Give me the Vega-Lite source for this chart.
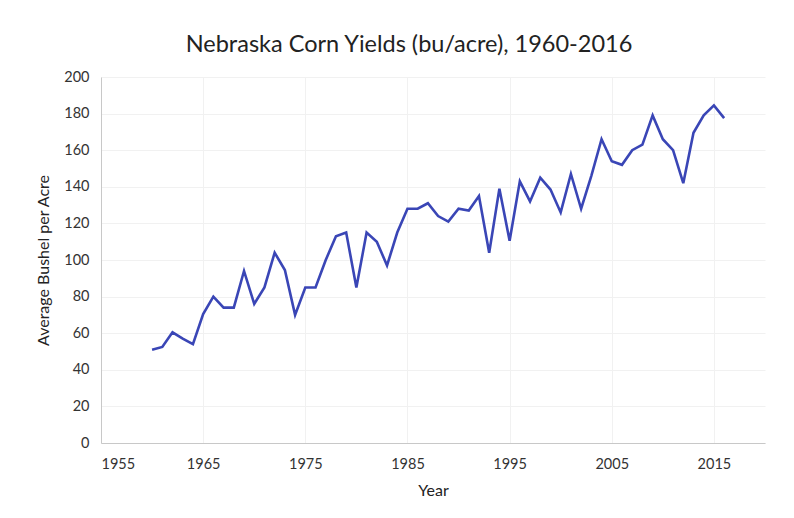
{
  "$schema": "https://vega.github.io/schema/vega-lite/v6.json",
  "autosize": "none",
  "width": 664,
  "height": 366,
  "padding": {"left": 101, "top": 77, "right": 29, "bottom": 75},
  "background": "white",
  "title": {
    "text": "Nebraska Corn Yields (bu/acre), 1960-2016",
    "font": "Lato",
    "fontSize": 23.5,
    "fontWeight": "normal",
    "color": "#222222",
    "anchor": "middle",
    "dx": -24,
    "offset": 13
  },
  "config": {
    "view": {"stroke": null},
    "axis": {
      "labelFont": "Lato",
      "titleFont": "Lato",
      "labelFontSize": 14.5,
      "titleFontSize": 16,
      "titleFontWeight": "normal",
      "labelColor": "#333333",
      "titleColor": "#222222",
      "gridColor": "#f1f1f1",
      "domainColor": "#c8c8c8",
      "ticks": false
    }
  },
  "data": {
    "values": [
      {"year": 1960, "yield": 51},
      {"year": 1961, "yield": 52.5},
      {"year": 1962, "yield": 60.5},
      {"year": 1963, "yield": 57},
      {"year": 1964, "yield": 54},
      {"year": 1965, "yield": 70.5},
      {"year": 1966, "yield": 80},
      {"year": 1967, "yield": 74},
      {"year": 1968, "yield": 74},
      {"year": 1969, "yield": 94},
      {"year": 1970, "yield": 76},
      {"year": 1971, "yield": 85},
      {"year": 1972, "yield": 104},
      {"year": 1973, "yield": 94.5},
      {"year": 1974, "yield": 70},
      {"year": 1975, "yield": 85},
      {"year": 1976, "yield": 85},
      {"year": 1977, "yield": 100},
      {"year": 1978, "yield": 113},
      {"year": 1979, "yield": 115},
      {"year": 1980, "yield": 85},
      {"year": 1981, "yield": 115},
      {"year": 1982, "yield": 110},
      {"year": 1983, "yield": 97},
      {"year": 1984, "yield": 115},
      {"year": 1985, "yield": 128},
      {"year": 1986, "yield": 128},
      {"year": 1987, "yield": 131},
      {"year": 1988, "yield": 124},
      {"year": 1989, "yield": 121},
      {"year": 1990, "yield": 128},
      {"year": 1991, "yield": 127},
      {"year": 1992, "yield": 135},
      {"year": 1993, "yield": 104},
      {"year": 1994, "yield": 139},
      {"year": 1995, "yield": 110.5},
      {"year": 1996, "yield": 143},
      {"year": 1997, "yield": 132},
      {"year": 1998, "yield": 145},
      {"year": 1999, "yield": 138.5},
      {"year": 2000, "yield": 126},
      {"year": 2001, "yield": 147},
      {"year": 2002, "yield": 128},
      {"year": 2003, "yield": 146},
      {"year": 2004, "yield": 166},
      {"year": 2005, "yield": 154},
      {"year": 2006, "yield": 152},
      {"year": 2007, "yield": 160},
      {"year": 2008, "yield": 163},
      {"year": 2009, "yield": 179},
      {"year": 2010, "yield": 166},
      {"year": 2011, "yield": 160},
      {"year": 2012, "yield": 142},
      {"year": 2013, "yield": 169.5},
      {"year": 2014, "yield": 179},
      {"year": 2015, "yield": 184.5},
      {"year": 2016, "yield": 177.5}
    ]
  },
  "mark": {"type": "line", "color": "#3a46b6", "strokeWidth": 2.6, "strokeJoin": "miter"},
  "encoding": {
    "x": {
      "field": "year",
      "type": "quantitative",
      "scale": {"domain": [1955, 2020], "nice": false, "zero": false},
      "axis": {
        "title": "Year",
        "values": [1955, 1965, 1975, 1985, 1995, 2005, 2015],
        "format": "d",
        "labelPadding": 14,
        "titlePadding": 12,
        "grid": true
      }
    },
    "y": {
      "field": "yield",
      "type": "quantitative",
      "scale": {"domain": [0, 200], "nice": false},
      "axis": {
        "title": "Average Bushel per Acre",
        "values": [0, 20, 40, 60, 80, 100, 120, 140, 160, 180, 200],
        "labelPadding": 12,
        "titlePadding": 12,
        "grid": true
      }
    }
  }
}
